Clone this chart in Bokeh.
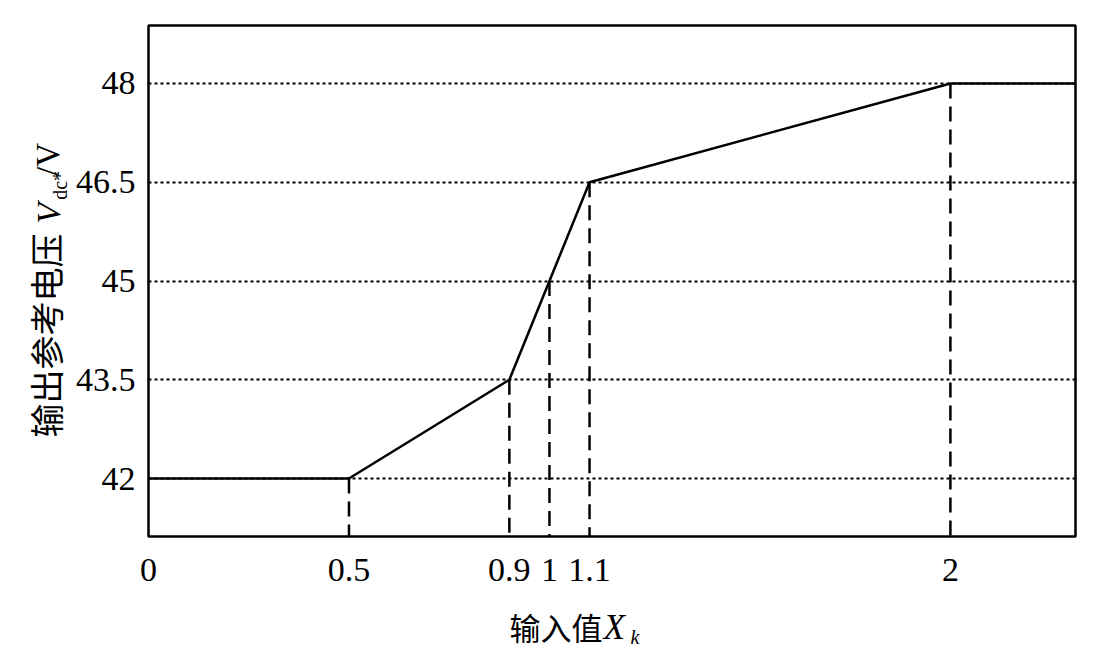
import math
from bokeh.plotting import figure
from bokeh.layouts import row, column
from bokeh.models import Range1d, FixedTicker
from bokeh.core.properties import value
from bokeh.embed import file_html
from bokeh.resources import INLINE

# ---- data ----
x_input = [0.0, 0.5, 0.9, 1.0, 1.1, 2.0, 2.312]
v_ref = [42.0, 42.0, 43.5, 45.0, 46.5, 48.0, 48.0]
break_x = [0.5, 0.9, 1.0, 1.1, 2.0]
break_v = [42.0, 43.5, 45.0, 46.5, 48.0]
x_ticks = [0, 0.5, 0.9, 1, 1.1, 2]
x_tick_labels = ["0", "0.5", "0.9", "1", "1.1", "2"]
y_ticks = [42, 43.5, 45, 46.5, 48]
y_tick_labels = ["42", "43.5", "45", "46.5", "48"]
x_title = ["输入值", "X", "k"]
y_title = ["输出参考电压", "V", "dc*", "/V"]

X0, X1 = 0.0, 2.312
Y0, Y1 = 41.12, 48.88

CJK = "Noto Sans CJK SC"
SERIF = "Liberation Serif"

LEFT_W = 72
MAIN_W = 1091 - LEFT_W
MAIN_H = 598
BOTTOM_H = 650 - MAIN_H

# ---- main chart ----
p = figure(width=MAIN_W, height=MAIN_H, output_backend="svg", toolbar_location=None,
           x_range=Range1d(X0, X1), y_range=Range1d(Y0, Y1))
p.min_border_left = 148 - LEFT_W
p.min_border_right = 16
p.min_border_top = 25
p.min_border_bottom = MAIN_H - 536
p.background_fill_color = "white"
p.border_fill_color = "white"
p.outline_line_color = "black"
p.outline_line_width = 2.5

p.xgrid.visible = False
p.ygrid.ticker = FixedTicker(ticks=y_ticks)
p.ygrid.grid_line_color = "black"
p.ygrid.grid_line_dash = "3 3"
p.ygrid.grid_line_width = 2

for ax in (p.xaxis[0], p.yaxis[0]):
    ax.axis_line_color = None
    ax.major_tick_line_color = None
    ax.minor_tick_line_color = None
    ax.major_label_text_font = SERIF
    ax.major_label_text_font_size = "34px"
    ax.major_label_text_color = "black"
p.xaxis.ticker = FixedTicker(ticks=x_ticks)
p.yaxis.ticker = FixedTicker(ticks=y_ticks)
p.xaxis.major_label_overrides = {t: s for t, s in zip(x_ticks, x_tick_labels)}
p.yaxis.major_label_overrides = {t: s for t, s in zip(y_ticks, y_tick_labels)}
p.xaxis.major_label_standoff = 16
p.yaxis.major_label_standoff = 7

p.segment(x0=break_x, y0=break_v, x1=break_x, y1=[Y0] * len(break_x),
          line_color="black", line_width=2.5, line_dash="15 8")
p.line(x_input, v_ref, line_color="black", line_width=2.5)


def blank(w, h):
    f = figure(width=w, height=h, output_backend="svg", toolbar_location=None,
               x_axis_location=None, y_axis_location=None,
               x_range=Range1d(0, w), y_range=Range1d(0, h),
               min_border=0, min_border_left=0, min_border_right=0,
               min_border_top=0, min_border_bottom=0)
    f.grid.visible = False
    f.outline_line_color = None
    f.background_fill_color = "white"
    f.border_fill_color = "white"
    return f

# ---- y title panel (pixel coordinates, y up) ----
yt = blank(LEFT_W, MAIN_H)
a = math.pi / 2
def ty(sy):
    return MAIN_H - sy
yt.text(x=[45], y=[ty(482)], text=[y_title[0]], angle=a, text_font=value(CJK),
        text_font_size="34px", text_align="left", text_baseline="middle", text_color="black")
yt.text(x=[48], y=[ty(232)], text=[y_title[1]], angle=a, text_font=value(SERIF),
        text_font_style="italic", text_font_size="34px", text_align="left",
        text_baseline="middle", text_color="black")
yt.text(x=[59], y=[ty(204)], text=[y_title[2]], angle=a, text_font=value(SERIF),
        text_font_size="20px", text_align="left", text_baseline="middle", text_color="black")
yt.text(x=[47], y=[ty(176)], text=[y_title[3]], angle=a, text_font=value(SERIF),
        text_font_size="33px", text_align="left", text_baseline="middle", text_color="black")

# ---- x title panel ----
xt = blank(1091, BOTTOM_H)
def tx_y(sy):
    return 650 - sy
xt.text(x=[509], y=[tx_y(626)], text=[x_title[0]], text_font=value(CJK),
        text_font_size="31px", text_align="left", text_baseline="middle", text_color="black")
xt.text(x=[603], y=[tx_y(627)], text=[x_title[1]], text_font=value(SERIF),
        text_font_style="italic", text_font_size="35px", text_align="left",
        text_baseline="middle", text_color="black")
xt.text(x=[630], y=[tx_y(636)], text=[x_title[2]], text_font=value(SERIF),
        text_font_style="italic", text_font_size="20px", text_align="left",
        text_baseline="middle", text_color="black")

layout = column(row(yt, p, spacing=0), xt, spacing=0)
open("out.html", "w").write(file_html(layout, INLINE))
